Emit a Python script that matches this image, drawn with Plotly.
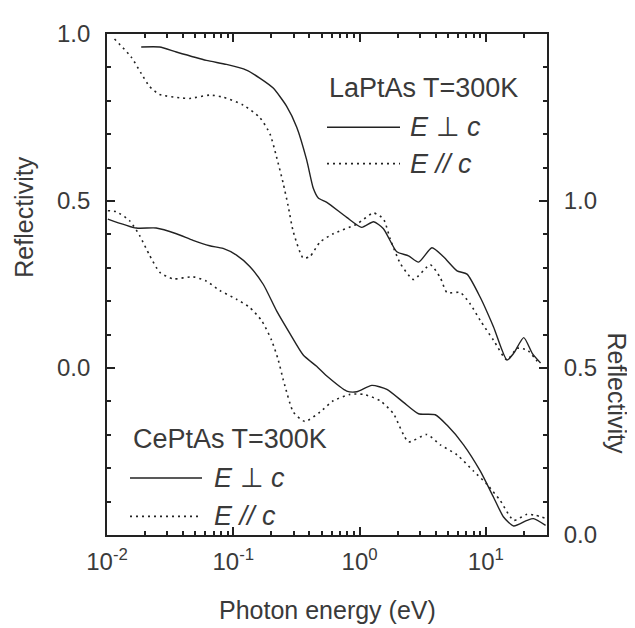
import plotly.graph_objects as go

# ---------------- data ----------------
# LaPtAs (left axis)
la_perp_E = [0.01866, 0.0261, 0.0354, 0.0612, 0.0883, 0.127, 0.162, 0.207, 0.264, 0.318,
             0.381, 0.430, 0.471, 0.550, 0.791, 1.04, 1.29, 1.545, 1.97, 2.44, 2.93, 3.74,
             4.62, 5.91, 7.09, 9.04, 11.5, 14.7, 16.6, 19.95, 23.3, 27.1]
la_perp_R = [0.961, 0.961, 0.946, 0.921, 0.909, 0.892, 0.868, 0.838, 0.784, 0.721,
             0.623, 0.538, 0.509, 0.496, 0.451, 0.421, 0.438, 0.417, 0.348, 0.336, 0.317, 0.360,
             0.333, 0.291, 0.281, 0.211, 0.123, 0.024, 0.044, 0.091, 0.044, 0.015]

la_par_E = [0.01147, 0.01556, 0.01866, 0.0217, 0.0261, 0.0376, 0.0452, 0.065, 0.083, 0.120,
            0.162, 0.195, 0.220, 0.248, 0.272, 0.299, 0.358, 0.405, 0.486, 0.619, 0.951,
            1.29, 1.545, 1.746, 2.096, 2.67, 3.63, 4.36, 4.92, 6.28, 7.54, 9.04, 11.5,
            14.7, 17.7, 21.2, 25.5]
la_par_R = [0.985, 0.931, 0.882, 0.843, 0.819, 0.809, 0.807, 0.817, 0.811, 0.787,
            0.750, 0.701, 0.632, 0.554, 0.485, 0.407, 0.329, 0.334, 0.377, 0.402, 0.431,
            0.464, 0.446, 0.387, 0.314, 0.265, 0.309, 0.270, 0.226, 0.226, 0.191, 0.142, 0.083,
            0.024, 0.059, 0.054, 0.020]

# CePtAs (right axis)
ce_perp_E = [0.01015, 0.01706, 0.0245, 0.0354, 0.048, 0.065, 0.083, 0.106, 0.135, 0.173,
             0.2203, 0.281, 0.358, 0.457, 0.550, 0.791, 0.951, 1.25, 1.644, 2.23, 2.93, 3.97,
             4.92, 6.66, 9.04, 11.5, 13.8, 16.6, 21.2, 23.8, 29.7]
ce_perp_R = [0.946, 0.919, 0.919, 0.902, 0.882, 0.866, 0.858, 0.838, 0.804, 0.750,
             0.671, 0.603, 0.539, 0.505, 0.476, 0.431, 0.429, 0.448, 0.436, 0.397, 0.363, 0.360,
             0.329, 0.270, 0.191, 0.113, 0.054, 0.027, 0.044, 0.049, 0.029]

ce_par_E = [0.01015, 0.01183, 0.0151, 0.0181, 0.0217, 0.0261, 0.0333, 0.048, 0.0612, 0.0782,
            0.106, 0.135, 0.1676, 0.201, 0.227, 0.248, 0.2566, 0.299, 0.369, 0.486, 0.619,
            0.841, 1.072, 1.455, 1.854, 2.44, 3.41, 4.36, 5.91, 8.0, 10.2, 13.0, 16.6,
            21.2, 24.7, 29.7]
ce_par_R = [0.971, 0.968, 0.941, 0.897, 0.838, 0.787, 0.767, 0.773, 0.760, 0.732,
            0.706, 0.681, 0.642, 0.583, 0.524, 0.466, 0.446, 0.368, 0.340, 0.368, 0.402,
            0.421, 0.421, 0.402, 0.363, 0.279, 0.301, 0.270, 0.240, 0.191, 0.152, 0.103, 0.044,
            0.062, 0.059, 0.050]

x_tickvals = [0.01, 0.1, 1, 10]
x_ticktext = ["10<sup>-2</sup>", "10<sup>-1</sup>", "10<sup>0</sup>", "10<sup>1</sup>"]
x_minorvals = [m * d for d in (0.01, 0.1, 1, 10) for m in range(2, 10) if m * d <= 30]
yl_tickvals = [0.0, 0.5, 1.0]
yl_ticktext = ["0.0", "0.5", "1.0"]
yr_tickvals = [0.0, 0.5, 1.0]
yr_ticktext = ["0.0", "0.5", "1.0"]
yl_minorvals = [round(-0.4 + 0.1 * i, 2) for i in range(14) if round(-0.4 + 0.1 * i, 2) not in (0.0, 0.5)]
yr_minorvals = [round(0.1 + 0.1 * i, 2) for i in range(14) if round(0.1 + 0.1 * i, 2) not in (0.5, 1.0)]

# ---------------- styling ----------------
INK = "#222222"
TXT = "#3a3a3a"
FONT = "Liberation Sans"
DOT = "2px,4px"
XR = [-2, 1.484]
# plot area in page pixels (the page body adds an 8px margin around the figure)
PL, PR, PT, PB = 107, 547, 25, 535
BODY = 8
FW, FH = 635 - BODY, 628 - BODY
W, H = PR - PL, PB - PT
MAJ, MIN = 8, 4

fig = go.Figure()
fig.add_trace(go.Scatter(x=la_perp_E, y=la_perp_R, mode="lines", line=dict(color=INK, width=1.4, shape="spline", smoothing=0.6), yaxis="y", showlegend=False))
fig.add_trace(go.Scatter(x=la_par_E, y=la_par_R, mode="lines", line=dict(color=INK, width=1.6, dash=DOT, shape="spline", smoothing=0.6), yaxis="y", showlegend=False))
fig.add_trace(go.Scatter(x=ce_perp_E, y=ce_perp_R, mode="lines", line=dict(color=INK, width=1.4, shape="spline", smoothing=0.6), yaxis="y2", showlegend=False))
fig.add_trace(go.Scatter(x=ce_par_E, y=ce_par_R, mode="lines", line=dict(color=INK, width=1.6, dash=DOT, shape="spline", smoothing=0.6), yaxis="y2", showlegend=False))

base = dict(showline=True, linecolor=INK, linewidth=1.8, showgrid=False, zeroline=False,
            ticks="inside", ticklen=MAJ, tickwidth=1.6, tickcolor=INK,
            tickfont=dict(family=FONT, size=24, color=TXT))

def minor(vals):
    return dict(tickmode="array", tickvals=vals, ticks="inside", ticklen=MIN, tickwidth=1.5,
                tickcolor=INK, showgrid=False)

fig.update_layout(
    width=FW, height=FH,
    margin=dict(l=PL - BODY, r=FW - (PR - BODY), t=PT - BODY, b=FH - (PB - BODY)),
    paper_bgcolor="white", plot_bgcolor="white",
    xaxis=dict(type="log", range=XR, tickmode="array", tickvals=x_tickvals, ticktext=x_ticktext,
               minor=minor(x_minorvals), mirror="ticks", anchor="y", ticklabelstandoff=4, **base),
    yaxis=dict(range=[-0.5, 1.0], tickmode="array", tickvals=yl_tickvals, ticktext=yl_ticktext,
               minor=minor(yl_minorvals), anchor="x", ticklabelstandoff=10, **base),
    yaxis2=dict(range=[0, 1.5], overlaying="y", anchor="x", side="right", tickmode="array",
                tickvals=yr_tickvals, ticktext=yr_ticktext, minor=minor(yr_minorvals),
                ticklabelstandoff=10, **base),
)

def px2paper(px, py):
    return (px - PL) / W, (PB - py) / H

title_font = dict(family=FONT, size=25, color=TXT)
# axis titles
ax_, ay_ = px2paper(327, 628)
fig.add_annotation(x=ax_, y=ay_, xref="paper", yref="paper", text="Photon energy (eV)",
                   showarrow=False, xanchor="center", yanchor="bottom", font=title_font)
ax_, ay_ = px2paper(24, 212)
fig.add_annotation(x=ax_, y=ay_, xref="paper", yref="paper", text="Reflectivity", textangle=-90,
                   showarrow=False, xanchor="center", yanchor="middle", font=title_font)
ax_, ay_ = px2paper(617, 390)
fig.add_annotation(x=ax_, y=ay_, xref="paper", yref="paper", text="Reflectivity", textangle=90,
                   showarrow=False, xanchor="center", yanchor="middle", font=title_font)

ann_font = dict(family=FONT, size=27, color=TXT)
legends = [
    (327, 80, 327, 400, 120, 157, 408),   # LaPtAs
    (131, 437, 130, 202, 477, 516, 212),  # CePtAs
]
titles = ["LaPtAs T=300K", "CePtAs T=300K"]
for (tx, ty, lx0, lx1, y1, y2, ttx), title in zip(legends, titles):
    ax, ay = px2paper(tx, ty)
    fig.add_annotation(x=ax, y=ay, xref="paper", yref="paper", text=title, showarrow=False,
                       xanchor="left", yanchor="middle", font=ann_font)
    for yy, dash, lbl in [(y1, "solid", "<i>E</i> \u22a5 <i>c</i>"), (y2, DOT, "<i>E // c</i>")]:
        a0, b0 = px2paper(lx0, yy)
        a1, _ = px2paper(lx1, yy)
        fig.add_shape(type="line", xref="paper", yref="paper", x0=a0, x1=a1, y0=b0, y1=b0,
                      line=dict(color=INK, width=1.4 if dash == "solid" else 1.6, dash=dash))
        tx2, _ = px2paper(ttx, yy)
        fig.add_annotation(x=tx2, y=b0, xref="paper", yref="paper", text=lbl, showarrow=False,
                           xanchor="left", yanchor="middle", font=ann_font)

fig.write_html("out.html")
